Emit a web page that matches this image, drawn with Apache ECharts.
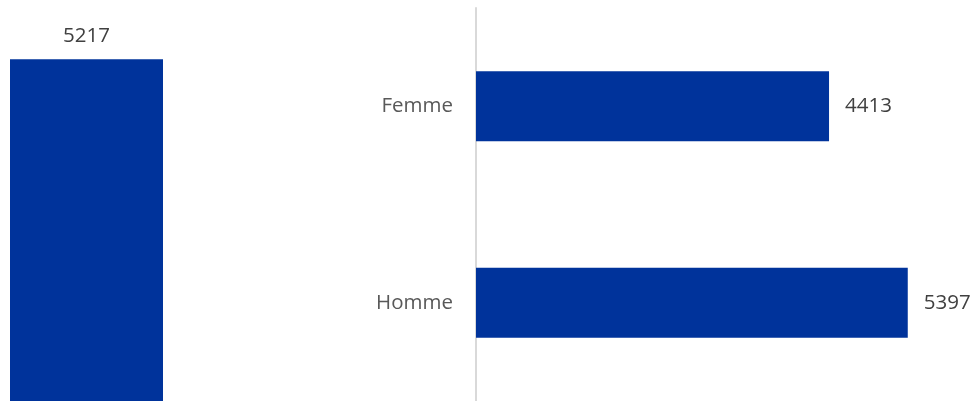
<!DOCTYPE html>
<html><head><meta charset="utf-8">
<script src="https://cdn.jsdelivr.net/npm/echarts@6/dist/echarts.min.js"></script>
<style>html,body{margin:0;padding:0;background:#fff}#c{width:979px;height:401px}</style>
</head><body><div id="c"></div>
<script>
const totalCategories = ['Total'];
const totalValues = [5217];
const sexCategories = ['Homme', 'Femme'];
const sexValues = [5397, 4413];

const chart = echarts.init(document.getElementById('c'), null, {renderer: 'canvas'});
const font = '"Open Sans", sans-serif';
chart.setOption({
  animation: false,
  grid: [
    {left: 0, width: 173, top: 8, bottom: 0},
    {left: 476, right: 23, top: 8, bottom: 0}
  ],
  xAxis: [
    {gridIndex: 0, type: 'category', data: totalCategories, show: false},
    {gridIndex: 1, type: 'value', min: 0, max: 6000, show: false}
  ],
  yAxis: [
    {gridIndex: 0, type: 'value', min: 0, max: 6000, show: false},
    {gridIndex: 1, type: 'category', data: sexCategories,
     axisLine: {show: true, lineStyle: {color: '#d9d9d9', width: 2}},
     axisTick: {show: false},
     axisLabel: {color: '#595959', fontSize: 20.5, fontFamily: font, margin: 23}}
  ],
  series: [
    {type: 'bar', xAxisIndex: 0, yAxisIndex: 0, data: totalValues, barWidth: 153,
     itemStyle: {color: '#00339b'},
     label: {show: true, position: 'top', distance: 13, color: '#404040', fontSize: 20.5, fontFamily: font}},
    {type: 'bar', xAxisIndex: 1, yAxisIndex: 1, data: sexValues, barWidth: 70,
     itemStyle: {color: '#00339b'},
     label: {show: true, position: 'right', distance: 16, color: '#404040', fontSize: 20.5, fontFamily: font}}
  ]
});
</script></body></html>
